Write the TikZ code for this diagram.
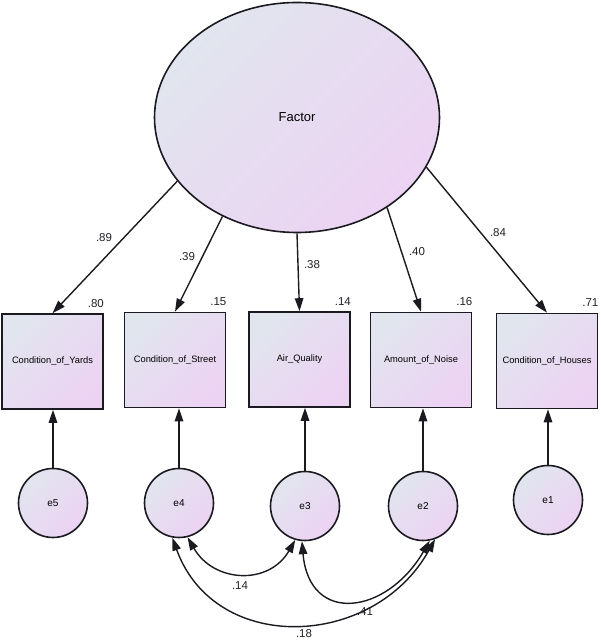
\documentclass[tikz,border=0pt]{standalone}
\usepackage{fontspec}
\setmainfont{Liberation Sans}
\usetikzlibrary{
  shapes.geometric, arrows.meta, positioning, calc
}
\usepackage{xcolor}
\definecolor{semgrey}{HTML}{E1E5EE}
\definecolor{semlilac}{HTML}{ECD3F3}
\definecolor{semline}{HTML}{1A1A20}
\definecolor{semtext}{HTML}{202028}

\tikzset{
  semfill/.style={draw=semline, line width=1.6pt, top color=semgrey, bottom color=semlilac, shading angle=45},
  latent/.style={semfill, ellipse, minimum width=285pt, minimum height=230pt, inner sep=0pt, font=\fontsize{13}{15}\selectfont},
  observed/.style={semfill, rectangle, minimum width=101pt, minimum height=95pt, inner sep=0pt, font=\fontsize{9.3}{11}\selectfont},
  errvar/.style={semfill, circle, minimum size=69pt, inner sep=0pt, font=\fontsize{10}{12}\selectfont},
  regpath/.style={draw=semline, line width=1.4pt, -{Triangle[length=13pt,width=8.5pt]}},
  covpath/.style={draw=semline, line width=1.4pt, {Triangle[length=13pt,width=8.5pt]}-{Triangle[length=13pt,width=8.5pt]}},
  coef/.style={font=\fontsize{11.5}{13}\selectfont, text=semtext}
}

\begin{document}
\begin{tikzpicture}[x=1pt, y=1pt]
  \useasboundingbox (0,0) rectangle (600,640);

  % Latent factor
  \node[latent] (factor) at (297,522.5) {Factor};

  % Indicators
  \node[observed] (yards)  at (52.5,278.5) {Condition\_of\_Yards};
  \node[observed] (street) at (175,280)    {Condition\_of\_Street};
  \node[observed] (air)    at (299.5,280.5) {Air\_Quality};
  \node[observed] (noise)  at (421,280)    {Amount\_of\_Noise};
  \node[observed] (houses) at (547,279)    {Condition\_of\_Houses};

  % Error terms
  \node[errvar] (e5) at (53,137)  {e5};
  \node[errvar] (e4) at (179,137) {e4};
  \node[errvar] (e3) at (305,134) {e3};
  \node[errvar] (e2) at (423,134) {e2};
  \node[errvar] (e1) at (548,140) {e1};

  % Loadings
  \draw[regpath] (factor.208) -- (yards.north);
  \draw[regpath] (factor.233) -- (street.north);
  \draw[regpath] (factor.270) -- (air.north);
  \draw[regpath] (factor.315.5) -- (noise.north);
  \draw[regpath] (factor.339) -- (houses.north);
  \node[coef] at (104,402) {.89};
  \node[coef] at (187,383) {.39};
  \node[coef] at (312,375) {.38};
  \node[coef] at (417,388) {.40};
  \node[coef] at (498,407) {.84};

  % Squared multiple correlations
  \node[coef] at ($(yards.north east)+(-8,10)$)  {.80};
  \node[coef] at ($(street.north east)+(-8,10)$) {.15};
  \node[coef] at ($(air.north east)+(-8,10)$)    {.14};
  \node[coef] at ($(noise.north east)+(-8,10)$)  {.16};
  \node[coef] at ($(houses.north east)+(-8,10)$) {.71};

  % Errors into indicators
  \draw[regpath] (e5.north) -- (e5.north |- yards.south);
  \draw[regpath] (e4.north) -- (e4.north |- street.south);
  \draw[regpath] (e3.north) -- (e3.north |- air.south);
  \draw[regpath] (e2.north) -- (e2.north |- noise.south);
  \draw[regpath] (e1.north) -- (e1.north |- houses.south);

  % Error covariances
  \draw[covpath] (e4.284) to[out=-60, in=-120, looseness=1.25] (e3.254);
  \draw[covpath] (e3.265) to[out=-85, in=-120, looseness=1.7] (e2.281);
  \draw[covpath] (e4.259) to[out=-70, in=-119, looseness=1.22] (e2.290);
  \node[coef] at (240,54) {.14};
  \node[coef] at (365,28) {.41};
  \node[coef] at (304,6)  {.18};
\end{tikzpicture}
\end{document}
